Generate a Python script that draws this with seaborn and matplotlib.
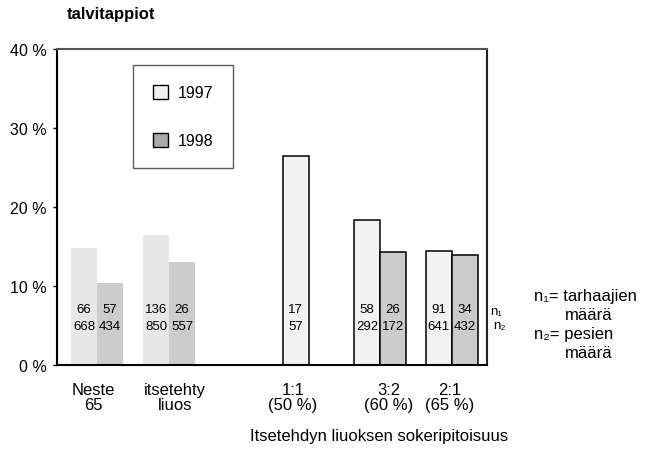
import matplotlib
matplotlib.use("Agg")
import matplotlib.pyplot as plt
import seaborn as sns
import pandas as pd
from matplotlib.patches import Patch

# ---------------- data ----------------
groups = ["Neste\n65", "itsetehty\nliuos", "1:1\n(50 %)", "3:2\n(60 %)", "2:1\n(65 %)"]
years = ["1997", "1998"]
loss_1997 = [14.8, 16.4, 26.5, 18.3, 14.4]
loss_1998 = [10.4, 13.0, None, 14.3, 13.9]
n1_1997 = [66, 136, 17, 58, 91]
n2_1997 = [668, 850, 57, 292, 641]
n1_1998 = [57, 26, None, 26, 34]
n2_1998 = [434, 557, None, 172, 432]
y_ticks = [0, 10, 20, 30, 40]
title = "talvitappiot"
x_title = "Itsetehdyn liuoksen sokeripitoisuus"
note_lines = ["n\u2081= tarhaajien", "määrä", "n\u2082= pesien", "määrä"]

# ---------------- layout ----------------
W, H = 646, 452
group_centers = [40, 112, 238.5, 323, 394.5]   # axis units (px from left spine)
label_centers = [36, 118, 236, 332, 393]
bar_w = 26
outlined_from = 2  # groups from this index drawn with black outline

sns.set_theme(style="ticks")
plt.rcParams["font.family"] = ["Liberation Sans", "DejaVu Sans"]
plt.rcParams.update({"text.color": "black", "axes.labelcolor": "black",
                     "xtick.color": "black", "ytick.color": "black"})

fig = plt.figure(figsize=(W / 100, H / 100), dpi=100)
ax = fig.add_axes([57 / W, 1 - 366 / H, (487 - 57) / W, (366 - 50) / H])

rows = []
for i, c in enumerate(group_centers):
    has98 = loss_1998[i] is not None
    x97 = c - bar_w / 2 if has98 else c
    rows.append(dict(x=x97, val=loss_1997[i], year="1997", n1=n1_1997[i], n2=n2_1997[i],
                     outlined=i >= outlined_from))
    if has98:
        rows.append(dict(x=c + bar_w / 2, val=loss_1998[i], year="1998", n1=n1_1998[i],
                         n2=n2_1998[i], outlined=i >= outlined_from))
df = pd.DataFrame(rows)

plain = df[~df.outlined]
boxed = df[df.outlined]
sns.barplot(data=plain, x="x", y="val", hue="year", orient="x", native_scale=True,
            width=1, dodge=False, errorbar=None, legend=False, saturation=1,
            palette={"1997": "#e7e7e7", "1998": "#cccccc"}, linewidth=0, ax=ax)
sns.barplot(data=boxed, x="x", y="val", hue="year", orient="x", native_scale=True,
            width=1, dodge=False, errorbar=None, legend=False, saturation=1,
            palette={"1997": "#f1f1f1", "1998": "#cccccc"}, edgecolor="black",
            linewidth=1.1, ax=ax)

for _, r in df.iterrows():
    ax.text(r.x, 7.1, f"{int(r.n1)}", ha="center", va="center", fontsize=9.5, color="black")
    ax.text(r.x, 5.0, f"{int(r.n2)}", ha="center", va="center", fontsize=9.5, color="black")

ax.set_xlim(0, 430)
ax.set_ylim(0, 40)
ax.set_xlabel("")
ax.set_ylabel("")
ax.set_yticks(y_ticks)
ax.set_yticklabels([f"{v} %" for v in y_ticks], fontsize=11.5)
ax.tick_params(axis="y", direction="out", length=3, width=1, pad=4.5, color="black")
ax.set_xticks(label_centers)
ax.set_xticklabels(groups, fontsize=12, linespacing=1.0)
ax.tick_params(axis="x", length=0, pad=12)
for side in ["left", "bottom"]:
    ax.spines[side].set_color("black")
    ax.spines[side].set_linewidth(1.5)
ax.spines["top"].set_color("#555555")
ax.spines["top"].set_linewidth(1.5)
ax.spines["right"].set_color("#222222")
ax.spines["right"].set_linewidth(1.5)
ax.grid(False)

handles = [Patch(facecolor="#f1f1f1", edgecolor="black", linewidth=1),
           Patch(facecolor="#aaaaaa", edgecolor="black", linewidth=1)]
leg = ax.legend(handles, years, loc="upper left", bbox_to_anchor=(133 / W, 1 - 66 / H),
                bbox_transform=fig.transFigure, borderaxespad=0, frameon=True,
                fancybox=False, fontsize=11.5, handlelength=0.95, handleheight=0.95,
                handletextpad=0.6, borderpad=1.25, labelspacing=2.05)
leg.get_frame().set_edgecolor("#333333")
leg.get_frame().set_linewidth(1)

fig.text(67 / W, 1 - 15 / H, title, fontsize=12, fontweight="bold", va="center", ha="left")
fig.text(250 / W, 1 - 437 / H, x_title, fontsize=12, va="center", ha="left")

fig.text(490 / W, 1 - 312 / H, "n\u2081", fontsize=9.5, va="center", ha="left")
fig.text(493 / W, 1 - 326 / H, "n\u2082", fontsize=9.5, va="center", ha="left")
note_pos = [(534, 297), (565, 315), (534, 334), (565, 353)]
for (px, py), t in zip(note_pos, note_lines):
    fig.text(px / W, 1 - py / H, t, fontsize=12, va="center", ha="left")

fig.savefig("out.png", dpi=100)
